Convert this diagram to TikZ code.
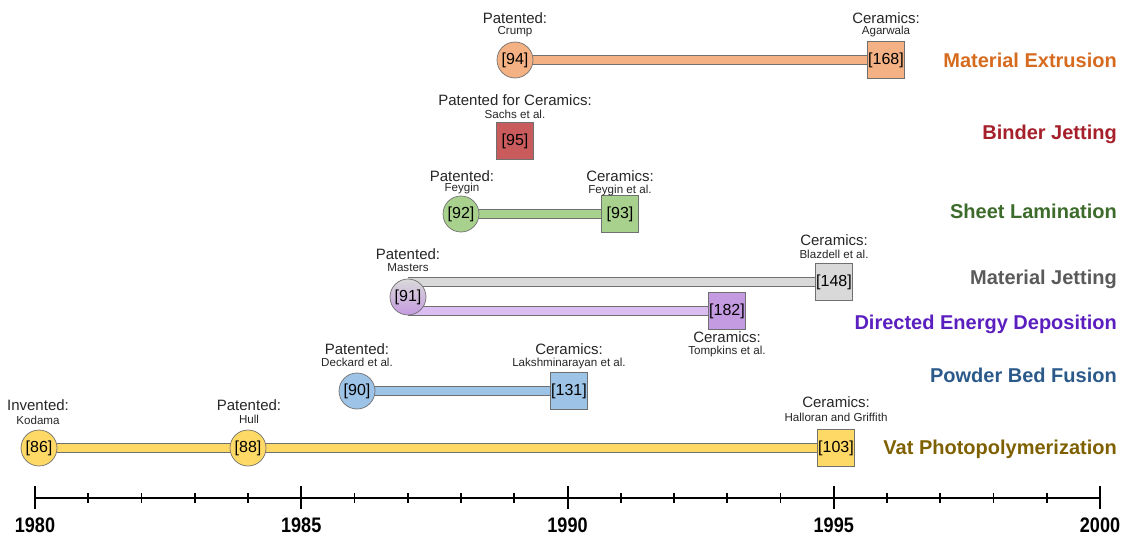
\documentclass[tikz,border=0pt]{standalone}
\usepackage{fontspec}
\setmainfont{Liberation Sans}
\newfontfamily\yearfont[FakeStretch=0.86]{Liberation Sans}
\usetikzlibrary{calc}
\pgfdeclarelayer{bg}\pgfsetlayers{bg,main}
\definecolor{orF}{HTML}{F4B183}
\definecolor{redF}{HTML}{C95B5C}
\definecolor{grnF}{HTML}{A9D18E}
\definecolor{gryF}{HTML}{D9D9D9}
\definecolor{purF}{HTML}{C49BE0}
\definecolor{purL}{HTML}{DCBDF2}
\definecolor{bluF}{HTML}{9DC3E6}
\definecolor{yelF}{HTML}{FFD966}
\definecolor{edge}{HTML}{707070}
\definecolor{txt}{HTML}{262626}
\definecolor{cME}{HTML}{D66B1F}
\definecolor{cBJ}{HTML}{A5202A}
\definecolor{cSL}{HTML}{3D6B2B}
\definecolor{cMJ}{HTML}{5A5A5A}
\definecolor{cDED}{HTML}{5B1FBF}
\definecolor{cPBF}{HTML}{2B5A8A}
\definecolor{cVP}{HTML}{7F6000}
\begin{document}
\begin{tikzpicture}[x=1pt,y=-1pt,
  circ/.style={circle, draw=edge, line width=0.7pt, minimum size=36pt, inner sep=0pt, font=\fontsize{16}{18}\selectfont},
  sqbox/.style={rectangle, draw=edge, line width=0.7pt, minimum size=37pt, inner sep=0pt, font=\fontsize{16}{18}\selectfont},
  big/.style={font=\fontsize{15}{17}\selectfont, text=txt, inner sep=0pt},
  small/.style={font=\fontsize{11.6}{13}\selectfont, text=txt, inner sep=0pt},
  cat/.style={font=\fontsize{20}{24}\selectfont\bfseries, anchor=base east, inner sep=0pt},
  yearlab/.style={font=\yearfont\fontsize{21}{24}\selectfont\bfseries, inner sep=0pt},
  bar/.style={line width=1pt, draw=edge, double distance=8.5pt}]
\useasboundingbox (0,0) rectangle (1125,535);

% Material Extrusion
\node[circ, fill=orF] (c94) at (515,60) {[94]};
\node[sqbox, fill=orF] (s168) at (886,60) {[168]};
\node[big] (p94) at (515,18) {Patented:};
\node[small] (n94) at (515,32) {Crump};
\node[big] (p168) at (886,18) {Ceramics:};
\node[small] (n168) at (886,32) {Agarwala};
\begin{pgfonlayer}{bg}
\draw[bar, double=orF] (c94.center) -- (s168.center);
\end{pgfonlayer}

% Binder Jetting
\node[sqbox, fill=redF] (s95) at (515,141) {[95]};
\node[big] (p95) at (515,100) {Patented for Ceramics:};
\node[small] (n95) at (515,114) {Sachs et al.};

% Sheet Lamination
\node[circ, fill=grnF] (c92) at (461,214) {[92]};
\node[sqbox, fill=grnF] (s93) at (620,214) {[93]};
\node[big] (p92) at (462,176) {Patented:};
\node[small] (n92) at (462,189) {Feygin};
\node[big] (p93) at (620,176) {Ceramics:};
\node[small] (n93) at (620,190) {Feygin et al.};
\begin{pgfonlayer}{bg}
\draw[bar, double=grnF] (c92.center) -- (s93.center);
\end{pgfonlayer}

% Material Jetting / DED
\node[circ, top color=gryF, bottom color=purF, draw=edge] (c91) at (408,297) {[91]};
\node[sqbox, fill=gryF] (s148) at (834,282) {[148]};
\node[sqbox, fill=purF] (s182) at (727,311) {[182]};
\node[big] (p91) at (408,254) {Patented:};
\node[small] (n91) at (408,268) {Masters};
\node[big] (p148) at (834,240) {Ceramics:};
\node[small] (n148) at (834,254) {Blazdell et al.};
\node[big] (p182) at (727,337) {Ceramics:};
\node[small] (n182) at (727,351) {Tompkins et al.};
\begin{pgfonlayer}{bg}
\draw[bar, double=gryF] (c91.center |- s148.center) -- (s148.center);
\draw[bar, double=purL] (c91.center |- s182.center) -- (s182.center);
\end{pgfonlayer}

% Powder Bed Fusion
\node[circ, fill=bluF] (c90) at (357,391) {[90]};
\node[sqbox, fill=bluF] (s131) at (569,391) {[131]};
\node[big] (p90) at (357,349) {Patented:};
\node[small] (n90) at (357,362) {Deckard et al.};
\node[big] (p131) at (569,349) {Ceramics:};
\node[small] (n131) at (569,363) {Lakshminarayan et al.};
\begin{pgfonlayer}{bg}
\draw[bar, double=bluF] (c90.center) -- (s131.center);
\end{pgfonlayer}

% Vat Photopolymerization
\node[circ, fill=yelF] (c86) at (39,448) {[86]};
\node[circ, fill=yelF] (c88) at (248,448) {[88]};
\node[sqbox, fill=yelF] (s103) at (836,448) {[103]};
\node[big] (p86) at (38,405) {Invented:};
\node[small] (n86) at (38,420) {Kodama};
\node[big] (p88) at (249,405) {Patented:};
\node[small] (n88) at (249,419) {Hull};
\node[big] (p103) at (836,402) {Ceramics:};
\node[small] (n103) at (836,417) {Halloran and Griffith};
\begin{pgfonlayer}{bg}
\draw[bar, double=yelF] (c86.center) -- (s103.center);
\end{pgfonlayer}

% Category labels
\node[cat, text=cME] (tME) at (1117,67) {Material Extrusion};
\node[cat, text=cBJ] (tBJ) at (1117,139.5) {Binder Jetting};
\node[cat, text=cSL] (tSL) at (1117,218) {Sheet Lamination};
\node[cat, text=cMJ] (tMJ) at (1117,284.5) {Material Jetting};
\node[cat, text=cDED] (tDED) at (1117,329.5) {Directed Energy Deposition};
\node[cat, text=cPBF] (tPBF) at (1117,382.5) {Powder Bed Fusion};
\node[cat, text=cVP] (tVP) at (1117,454.5) {Vat Photopolymerization};

% Axis
\draw[line width=2.5pt] (35,498) -- (1100,498);
\foreach \i in {0,...,20}{
  \pgfmathsetmacro{\xx}{35+53.25*\i}
  \pgfmathtruncatemacro{\m}{mod(\i,5)}
  \ifnum\m=0
    \draw[line width=2pt] (\xx,486) -- (\xx,509);
  \else
    \draw[line width=1.8pt] (\xx,493) -- (\xx,503);
  \fi
}
\foreach \y/\i in {1980/0,1985/5,1990/10,1995/15,2000/20}{
  \node[yearlab] (y\y) at ({35+53.25*\i},525) {\y};
}
\end{tikzpicture}
\end{document}
